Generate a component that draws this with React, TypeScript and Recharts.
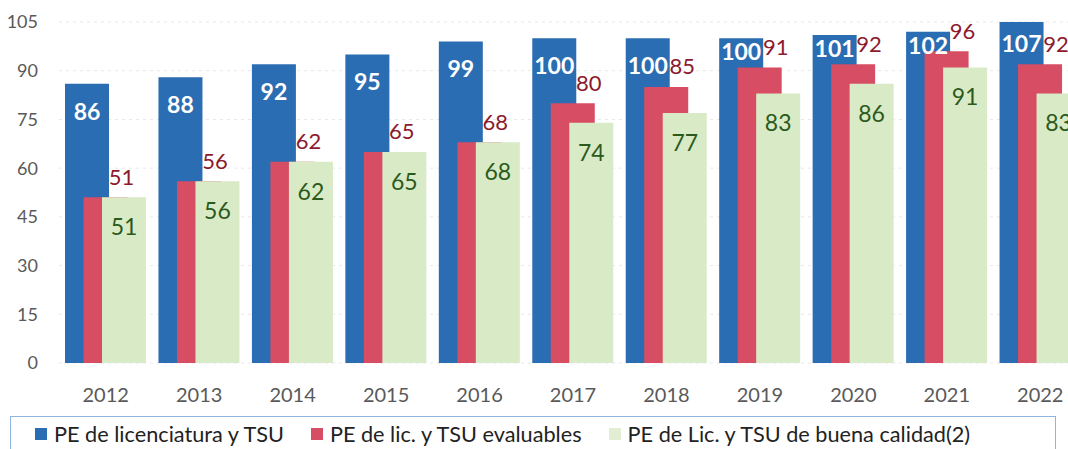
import React from 'react';
import { BarChart, Bar, XAxis, YAxis, CartesianGrid, LabelList } from 'recharts';

const years = ['2012', '2013', '2014', '2015', '2016', '2017', '2018', '2019', '2020', '2021', '2022'];
const totalPE = [86, 88, 92, 95, 99, 100, 100, 100, 101, 102, 107];
const evaluables = [51, 56, 62, 65, 68, 80, 85, 91, 92, 96, 92];
const buenaCalidad = [51, 56, 62, 65, 68, 74, 77, 83, 86, 91, 83];
const yTicks = [0, 15, 30, 45, 60, 75, 90, 105];
const seriesNames = [
  'PE de licenciatura y TSU',
  'PE de lic. y TSU evaluables',
  'PE de Lic. y TSU de buena calidad(2)',
];

const BLUE = '#2b6db2';
const RED = '#d74d63';
const GREEN = '#d9eac6';
const RED_TEXT = '#8c1a2c';
const GREEN_TEXT = '#2c5a1c';
const FONT = 'Lato, "Noto Sans", sans-serif';

const data = years.map((y, i) => ({
  year: y,
  total: totalPE[i],
  evaluables: evaluables[i],
  calidad: buenaCalidad[i],
}));

const BlueLabel = (props: any) => {
  const { x, y, width, value, index } = props;
  const crowded = evaluables[index] / totalPE[index] > 0.88;
  const dy = crowded ? 13 : 27;
  return (
    <text x={Number(x) + Number(width) / 2} y={Number(y) + dy} textAnchor="middle" dominantBaseline="central"
      fill="#ffffff" fontWeight={700} fontSize={23} fontFamily={FONT}>
      {value}
    </text>
  );
};

const RedLabel = (props: any) => {
  const { x, y, width, value } = props;
  return (
    <text x={Number(x) + Number(width) / 2 + 16} y={Number(y) - 21} textAnchor="middle" dominantBaseline="central"
      fill={RED_TEXT} fontSize={22} fontFamily={FONT}>
      {value}
    </text>
  );
};

const GreenLabel = (props: any) => {
  const { x, y, width, value } = props;
  return (
    <text x={Number(x) + Number(width) / 2} y={Number(y) + 29} textAnchor="middle" dominantBaseline="central"
      fill={GREEN_TEXT} fontSize={23} fontFamily={FONT}>
      {value}
    </text>
  );
};

const legendColors = [BLUE, RED, '#e2eed4'];

export default function App() {
  return (
    <div style={{ position: 'absolute', left: 0, top: 0, width: 1068, height: 449, overflow: 'hidden', background: '#fff', fontFamily: FONT }}>
      <BarChart
        width={1100}
        height={449}
        data={data}
        margin={{ top: 22, right: 13, left: 0, bottom: 46 }}
        barSize={44}
        barGap={-25.5}
      >
        <CartesianGrid vertical={false} stroke="#e8e8e8" strokeDasharray="3 4" />
        <XAxis
          dataKey="year"
          axisLine={false}
          tickLine={false}
          height={40}
          tickMargin={19}
          tick={{ fill: '#595959', fontSize: 20, fontFamily: FONT }}
          interval={0}
        />
        <YAxis
          width={59}
          domain={[0, 105]}
          ticks={yTicks}
          allowDataOverflow
          axisLine={false}
          tickLine={false}
          tickMargin={15}
          tick={{ fill: '#595959', fontSize: 18, fontFamily: FONT }}
        />
        <Bar dataKey="total" fill={BLUE} isAnimationActive={false}>
          <LabelList dataKey="total" content={BlueLabel} />
        </Bar>
        <Bar dataKey="evaluables" fill={RED} isAnimationActive={false}>
          <LabelList dataKey="evaluables" content={RedLabel} />
        </Bar>
        <Bar dataKey="calidad" fill={GREEN} isAnimationActive={false}>
          <LabelList dataKey="calidad" content={GreenLabel} />
        </Bar>
      </BarChart>
      <div
        style={{
          position: 'absolute',
          left: 10,
          top: 416,
          width: 1046,
          height: 50,
          border: '1px solid #8cb6de',
          boxSizing: 'border-box',
          display: 'flex',
          alignItems: 'flex-start',
          paddingLeft: 24,
          paddingTop: 6,
          gap: 27,
        }}
      >
        {seriesNames.map((name, i) => (
          <div key={name} style={{ display: 'flex', alignItems: 'center', whiteSpace: 'nowrap' }}>
            <span style={{ display: 'inline-block', width: 12, height: 12, background: legendColors[i], marginRight: 7 }} />
            <span style={{ fontSize: 21.7, color: '#222', lineHeight: '22px' }}>{name}</span>
          </div>
        ))}
      </div>
    </div>
  );
}
